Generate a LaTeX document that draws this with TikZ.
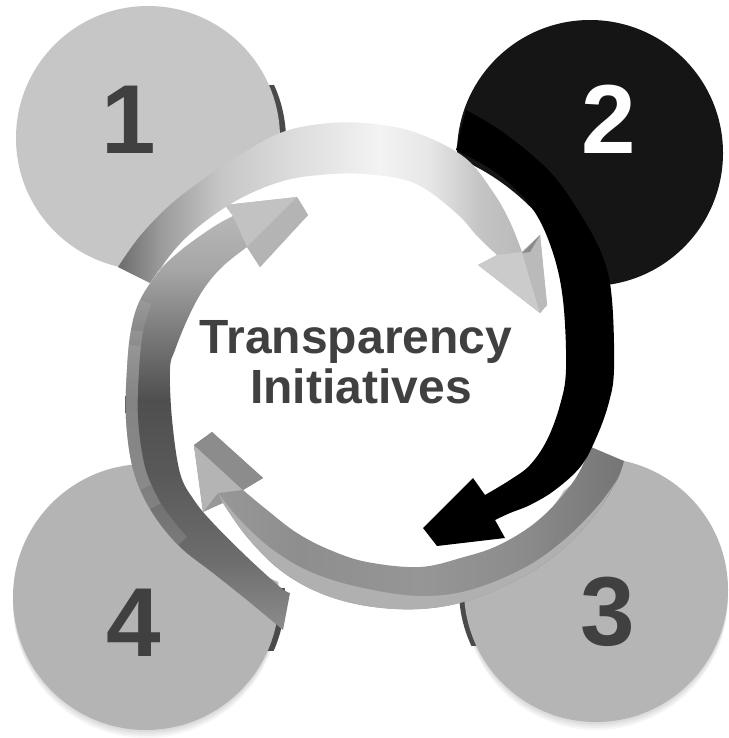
\documentclass[tikz,border=0pt]{standalone}
\usepackage{fontspec}
\setmainfont{Liberation Sans}
\definecolor{txt}{HTML}{404040}
\definecolor{cone}{HTML}{C6C6C6}
\definecolor{ctwo}{HTML}{151515}
\definecolor{cthree}{HTML}{B5B5B5}
\definecolor{cfour}{HTML}{B4B4B4}
\definecolor{cedge}{HTML}{4A4A4A}
\definecolor{gC2}{HTML}{C2C2C2}
\definecolor{gB4}{HTML}{B4B4B4}
\definecolor{gCB}{HTML}{CBCBCB}
\definecolor{gBA}{HTML}{BABABA}
\definecolor{g8A}{HTML}{8A8A8A}
\definecolor{g8C}{HTML}{8C8C8C}
% top arrow shading colours
\definecolor{tA}{HTML}{6C6C6C}\definecolor{tB}{HTML}{9A9A9A}\definecolor{tC}{HTML}{C6C6C6}
\definecolor{tD}{HTML}{DEDEDE}\definecolor{tE}{HTML}{F3F3F3}\definecolor{tF}{HTML}{E6E6E6}
\definecolor{tG}{HTML}{C4C4C4}\definecolor{tH}{HTML}{B4B4B4}
% left arrow shading colours
\definecolor{lA}{HTML}{8C8C8C}\definecolor{lB}{HTML}{6D6D6D}\definecolor{lC}{HTML}{585858}
\definecolor{lD}{HTML}{4F4F4F}\definecolor{lE}{HTML}{7C7C7C}\definecolor{lF}{HTML}{A6A6A6}
\definecolor{lG}{HTML}{BDBDBD}
% bottom arrow shading colours
\definecolor{bA}{HTML}{9A9A9A}\definecolor{bB}{HTML}{8E8E8E}\definecolor{bC}{HTML}{969696}
\definecolor{bD}{HTML}{8C8C8C}\definecolor{bE}{HTML}{757575}
\definecolor{bstrip}{HTML}{B0B0B0}
\pgfdeclarehorizontalshading{topsh}{100bp}{color(0bp)=(tA); color(25bp)=(tA); color(29.9bp)=(tB); color(36.9bp)=(tC); color(46.2bp)=(tD); color(55.5bp)=(tE); color(61.4bp)=(tF); color(67.2bp)=(tG); color(75bp)=(tH); color(100bp)=(tH)}
\pgfdeclareverticalshading{leftsh}{100bp}{color(0bp)=(lA); color(25bp)=(lA); color(33.1bp)=(lB); color(43.5bp)=(lC); color(51.6bp)=(lD); color(59.6bp)=(lE); color(66.6bp)=(lF); color(75bp)=(lG); color(100bp)=(lG)}
\pgfdeclarehorizontalshading{botsh}{100bp}{color(0bp)=(bA); color(25bp)=(bA); color(37.3bp)=(bB); color(51.3bp)=(bC); color(62.9bp)=(bD); color(75bp)=(bE); color(100bp)=(bE)}
\tikzset{
  numtext/.style={font=\fontsize{73.5}{80}\selectfont\bfseries, anchor=base, inner sep=0pt},
  titletext/.style={font=\fontsize{36}{40}\selectfont\bfseries, text=txt, anchor=base, inner sep=0pt},
  edgesliver/.style={fill=cedge},
  rimline/.style={color=lG, opacity=0.2, line width=18pt},
  softshadow/.style={fill=black, opacity=0.035},
}
\def\LApath{plot[smooth,tension=0.6] coordinates {(283,630) (247,600) (213,573) (178,545) (150,509) (133,469) (126,419) (127,369) (131,330) (140,300) (160,270) (180,251) (200,236) (218,224) (233,216)} -- (225,205) -- (297,197) -- (308,215) -- (260,267) -- (247,247) -- plot[smooth,tension=0.6] coordinates {(247,247) (222,267) (203,290) (188,318) (175,350) (170,369) (172,419) (180,473) (194,500) (213,523) (247,557) (280,587) (290,593)} -- cycle}
\def\TApath{plot[smooth,tension=0.6] coordinates {(118,267) (140,236) (170,205) (205,178) (243,153) (280,133) (320,124) (364,123) (414,132) (464,157) (493,192) (510,222) (522,252)} -- (540,235) -- (547,305) -- (540,313) -- (478,265) -- (497,255) -- plot[smooth,tension=0.6] coordinates {(497,255) (478,237) (455,212) (414,183) (364,174) (320,175) (283,181) (243,197) (207,220) (177,247) (150,283)} -- cycle}
\def\BApath{plot[smooth,tension=0.6] coordinates {(624,461) (617,480) (597,512) (564,548) (524,576) (470,600) (420,609) (367,606) (320,593) (280,570) (247,537) (223,503)} -- (203,512) -- (194,445) -- (212,432) -- (263,478) -- (243,490) -- plot[smooth,tension=0.6] coordinates {(243,490) (267,510) (297,533) (330,550) (367,562) (420,567) (464,557) (497,546) (531,526) (557,502) (577,476) (591,447)} -- cycle}
\def\KApath{plot[smooth,tension=0.6] coordinates {(466,110) (504,133) (551,173) (584,220) (604,260) (612,300) (614,369) (609,402) (597,436) (581,466) (555,490) (530,505) (510,513) (495,520)} -- (505,538) -- (437,546) -- (423,528) -- (473,478) -- (485,495) -- plot[smooth,tension=0.6] coordinates {(485,495) (510,480) (530,465) (547,440) (560,405) (566,369) (563,300) (552,250) (532,208) (498,174) (456,150)} -- cycle}
\begin{document}
\begin{tikzpicture}[x=0.75pt,y=-0.75pt]
\useasboundingbox (0,0) rectangle (728,738);
\fill[white] (0,0) rectangle (728,738);
% soft shadows under lower circles
\foreach \d in {2,4,6,8}{
  \fill[softshadow] (146,597+\d) circle[radius=99.75pt];
  \fill[softshadow] (596,590+\d) circle[radius=99pt];
}
% dark edges of the discs
\begin{scope}
  \clip (230,86) rectangle (300,135);
  \fill[edgesliver] (154,140) circle[radius=99pt];
\end{scope}
\begin{scope}
  \clip (240,588) rectangle (310,650);
  \fill[edgesliver] (152,597) circle[radius=99.75pt];
\end{scope}
\begin{scope}
  \clip (440,598) rectangle (500,645);
  \fill[edgesliver] (591,590) circle[radius=99pt];
\end{scope}
% discs
\fill[cone] (148,138) circle[radius=99pt];
\fill[ctwo] (590,153) circle[radius=99.75pt];
\fill[cthree] (596,590) circle[radius=99pt];
\fill[cfour] (146,597) circle[radius=99.75pt];
% white centre
\fill[white] (368,370) circle[radius=172.5pt];
% left arrow
\shade[shading=leftsh] \LApath;
\begin{scope}
  \clip \LApath;
  \draw[rimline] plot[smooth,tension=0.6] coordinates {(178,545) (150,509) (133,469) (126,419) (127,369) (131,330) (140,300)};
  \draw[rimline] plot[smooth,tension=0.6] coordinates {(150,509) (133,469) (126,419) (127,369) (131,330)};
  \draw[rimline] plot[smooth,tension=0.6] coordinates {(140,490) (133,469) (126,419) (127,369) (129,345)};
\end{scope}
\fill[gC2] (233,216) -- (225,205) -- (297,197) -- (247,247) -- cycle;
\fill[gB4] (297,197) -- (308,215) -- (260,267) -- (247,247) -- cycle;
% top arrow
\shade[shading=topsh] \TApath;
\fill[gCB] (478,265) -- (497,255) -- (522,252) -- (540,313) -- cycle;
\fill[gBA] (522,252) -- (540,235) -- (547,305) -- (540,313) -- cycle;
\fill[g8A] (522,253) -- (540,235) -- (530,252) -- cycle;
% white gap beside the black arrow
\draw[white, line width=9pt] plot[smooth,tension=0.6] coordinates {(612,380) (609,402) (597,436) (581,466) (555,490) (530,505) (510,513)};
% bottom arrow
\shade[shading=botsh] \BApath;
\fill[bstrip] plot[smooth,tension=0.6] coordinates {(617,480) (597,512) (564,548) (524,576) (470,600) (420,609) (367,606) (320,593) (280,570) (247,537) (223,503)} -- plot[smooth,tension=0.6] coordinates {(218,493) (240,520) (273,550) (313,573) (363,588) (420,596) (470,590) (524,568) (564,540) (597,507) (617,480)} -- cycle;
\fill[gB4] (194,445) -- (203,512) -- (218,493) -- (243,490) -- cycle;
\fill[g8C] (194,445) -- (212,432) -- (263,478) -- (243,490) -- cycle;
% black arrow
\fill[black] \KApath;
% numbers
\node[numtext, text=txt] (n1) at (129,153) {1};
\node[numtext, text=white] (n2) at (609,153) {2};
\node[numtext, text=txt] (n3) at (608,645) {3};
\node[numtext, text=txt] (n4) at (134,656) {4};
% title
\node[titletext] (t1) at (356,353) {Transparency};
\node[titletext] (t2) at (361,403) {Initiatives};
\end{tikzpicture}
\end{document}
